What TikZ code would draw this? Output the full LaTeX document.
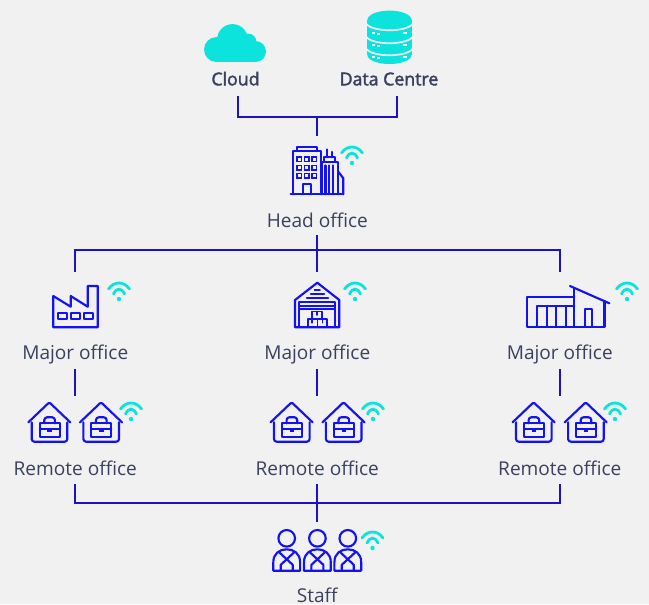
\documentclass[tikz,border=0pt]{standalone}
\usepackage{fontspec}
\setmainfont{Open Sans}
\newfontfamily\semibfont[FakeBold=2.2]{Open Sans}
\definecolor{bgc}{HTML}{F1F1F1}
\definecolor{wire}{HTML}{1C12C4}
\definecolor{iconblue}{HTML}{1212F2}
\definecolor{wific}{HTML}{0CE3DC}
\definecolor{txt}{HTML}{3A4160}
\tikzset{
  x=0.75pt,y=-0.75pt,
  wire/.style={draw=wire,line width=1.5pt},
  ic/.style={draw=iconblue,line width=1.6pt,line join=round,line cap=round},
  icthin/.style={draw=iconblue,line width=1.25pt,line join=round,line cap=round},
  lab/.style={inner sep=0pt,text=txt,font=\fontsize{14.3pt}{16pt}\selectfont,text height=14pt,text depth=3pt,minimum height=#1},
  blab/.style={lab=#1,font=\fontsize{13.3pt}{16pt}\semibfont},
  anchorbox/.style={inner sep=0pt,minimum width=10pt,minimum height=#1},
  pics/wifi/.style={code={
    \fill[wific] (0,0) circle (2.2);
    \draw[wific,line width=2.1pt,line cap=round] (-10.5,-10) .. controls (-5,-18) and (5,-18) .. (10.5,-10);
    \draw[wific,line width=2.1pt,line cap=round] (-5.5,-5) .. controls (-2.5,-11.5) and (2.5,-11.5) .. (5.5,-5);
  }},
  pics/house/.style={code={
    \draw[ic,rounded corners=1pt] (-21,20) -- (0,0) -- (21,20);
    \draw[ic,rounded corners=2pt] (-17.6,20) -- (-17.6,39.4) -- (18,39.4) -- (18,20);
    \draw[ic] (-9.6,21) rectangle (10.4,35);
    \draw[ic] (-9.6,27) -- (10.4,27);
    \draw[ic,rounded corners=2pt] (-5,21) -- (-5,15) -- (5.6,15) -- (5.6,21);
    \fill[iconblue] (-2,25.5) rectangle (2.5,29.5);
  }},
  pics/person/.style={code={
    \draw[ic] (0,0) circle (8.3);
    \draw[ic] (-13.4,32.4) -- (13.4,32.4) -- (13.4,24) .. controls (13.4,15) and (7,11) .. (0,11) .. controls (-7,11) and (-13.4,15) .. (-13.4,24) -- cycle;
    \draw[ic] (-7.5,14) -- (6,26.5) -- (6,32.4);
    \draw[ic] (7.5,14) -- (-6,26.5) -- (-6,32.4);
  }},
}
\begin{document}
\begin{tikzpicture}
\useasboundingbox[fill=bgc] (0,0) rectangle (649,604);

% Cloud
\fill[wific] (216.5,49.5) circle (12.5) (232.5,39.5) circle (15.4) (248,42) circle (8.5) (255.5,51.5) circle (10.5);
\fill[wific] (216.5,45) rectangle (255.5,62);

% Data centre
\fill[wific] (367.4,20) rectangle (411.6,55);
\fill[wific] (389.5,20) ellipse (22.1 and 9.4);
\fill[wific] (389.5,55) ellipse (22.1 and 9);
\foreach \yy in {23.5,36.5,48.5}{
  \draw[bgc,line width=1.3pt] (366,\yy) .. controls (372,{\yy+9}) and (407,{\yy+9}) .. (413,\yy);
}
\foreach \yy in {33,45,57}{
  \fill[bgc] (371.8,{\yy-.8}) rectangle (375,{\yy+.8});
  \fill[bgc] (376.8,{\yy+.4}) rectangle (380,{\yy+2});
  \fill[bgc] (403.4,{\yy-.8}) rectangle (406.6,{\yy+.8});
}

% Head office building
\draw[ic] (292.7,194.3) -- (292.7,151) -- (320.7,151) -- (320.7,194.3);
\draw[ic] (296.7,151) -- (296.7,146.7) -- (316.7,146.7) -- (316.7,151);
\foreach \xx in {299.3,306.7,314.3}\foreach \yy in {159.3,167.7,175.7}{
  \draw[iconblue,line width=1.3pt] ({\xx-2.3},{\yy-2.3}) rectangle ({\xx+2.3},{\yy+2.3});
}
\draw[ic] (302.7,194.3) -- (302.7,184) -- (311.3,184) -- (311.3,194.3);
\draw[ic] (290.7,194.3) -- (343.3,194.3);
\draw[ic] (321.7,194.3) -- (321.7,161.7) -- (338.3,161.7) -- (338.3,194.3);
\draw[ic] (323.8,161.7) -- (323.8,157.3) -- (335,157.3) -- (335,161.7);
\draw[ic] (327.3,157.3) -- (327.3,149.5);
\draw[ic] (331.7,157.3) -- (331.7,152);
\draw[ic] (325.5,165.5) -- (325.5,194.3);
\draw[ic] (329.2,165.5) -- (329.2,194.3);
\draw[ic] (333.4,165.5) -- (333.4,194.3);
\draw[ic] (338.3,171.7) -- (343.3,178.3) -- (343.3,194.3);

% Factory
\draw[ic] (53.3,296) -- (53.3,327.3) -- (97.7,327.3) -- (97.7,286) -- (87.7,286) -- (87.7,306.7) -- (70.7,296) -- (70.7,306.7) -- cycle;
\draw[ic] (57.7,312.7) rectangle (66.7,319);
\draw[ic] (70.7,312.7) rectangle (80,319);
\draw[ic] (84,312.7) rectangle (93.3,319);

% Warehouse
\draw[ic] (295,327.3) -- (295,300) -- (317.3,282.7) -- (339.3,300) -- (339.3,327.3) -- cycle;
\draw[icthin] (299.3,327.3) -- (299.3,302.3) -- (335,302.3) -- (335,327.3);
\draw[icthin] (299.3,305.8) -- (335,305.8);
\draw[icthin] (299.3,309.2) -- (335,309.2);
\draw[icthin] (314.6,290) -- (320,290);
\draw[icthin] (310.7,294) -- (324.3,294);
\draw[icthin] (306.7,298) -- (328.3,298);
\draw[icthin] (312.3,319) -- (312.3,311.5) -- (322.3,311.5) -- (322.3,319);
\draw[icthin] (307.7,327.3) -- (307.7,319.3) -- (327,319.3) -- (327,327.3);
\draw[icthin] (317.4,319.3) -- (317.4,327.3);
\draw[icthin] (317.3,311.5) -- (317.3,315);
\draw[icthin] (312.2,319.3) -- (312.2,322.8);
\draw[icthin] (322.4,319.3) -- (322.4,322.8);

% Shop
\draw[ic] (574.3,296.7) -- (526.7,296.7) -- (526.7,326.7) -- (604.5,326.7) -- (604.5,301);
\draw[ic] (570,286) -- (609.3,303.3);
\draw[ic] (574.3,288.5) -- (574.3,326.7);
\draw[ic] (536.7,326.7) -- (536.7,306) -- (574.3,306);
\draw[ic] (546.7,306) -- (546.7,326.7);
\draw[ic] (556,306) -- (556,326.7);
\draw[ic] (565.7,306) -- (565.7,326.7);
\draw[ic] (585,326.7) -- (585,309) -- (592.3,309) -- (592.3,326.7);

% Houses
\foreach \xx in {49.3,101,291.6,343.5,533.6,585.7}{ \pic at (\xx,402.3) {house}; }
% People
\foreach \xx in {286.7,317.4,347.8}{ \pic at (\xx,538.3) {person}; }
% Wifi
\pic at (352,163) {wifi};
\pic at (119,299) {wifi};
\pic at (355,299) {wifi};
\pic at (627,299) {wifi};
\pic at (131,419) {wifi};
\pic at (373,419) {wifi};
\pic at (615,419) {wifi};
\pic at (372.5,548) {wifi};

% Labels
\node[blab=27pt] (cloudlab) at (235.5,78) {Cloud};
\node[blab=27pt] (dclab) at (389,78) {Data Centre};
\node[lab=22.5pt] (headlab) at (317.3,220) {Head office};
\node[lab=25.5pt] (maj1) at (75.3,352) {Major office};
\node[lab=25.5pt] (maj2) at (317.3,352) {Major office};
\node[lab=25.5pt] (maj3) at (559.8,352) {Major office};
\node[lab=24pt] (rem1) at (75.3,468) {Remote office};
\node[lab=24pt] (rem2) at (317.3,468) {Remote office};
\node[lab=24pt] (rem3) at (559.8,468) {Remote office};
\node[lab=0pt,text height=11pt,text depth=0pt] (stafflab) at (317.3,595.6) {Staff};

% Anchors for connectors
\node[anchorbox=51pt] (headicon) at (317.3,170) {};
\node[anchorbox=42pt] (ic1) at (75.3,300) {};
\node[anchorbox=42pt] (ic2) at (317.3,300) {};
\node[anchorbox=42pt] (ic3) at (559.8,300) {};
\node[anchorbox=36pt] (h1) at (75.3,420) {};
\node[anchorbox=36pt] (h2) at (317.3,420) {};
\node[anchorbox=36pt] (h3) at (559.8,420) {};
\node[anchorbox=42pt] (staffic) at (317.3,550) {};
\coordinate (jtop) at (317.3,117);
\coordinate (jmid) at (317.3,250);
\coordinate (jbot) at (317.3,503);

% Connectors
\draw[wire] ([xshift=1.5pt]cloudlab.south) |- (jtop);
\draw[wire] ([xshift=6.2pt]dclab.south) |- (jtop);
\draw[wire] (jtop) -- (headicon.north);
\draw[wire] (headlab.south) -- (jmid);
\draw[wire] (ic1.north) |- (jmid);
\draw[wire] (ic3.north) |- (jmid);
\draw[wire] (jmid) -- (ic2.north);
\draw[wire] (maj1.south) -- (h1.north);
\draw[wire] (maj2.south) -- (h2.north);
\draw[wire] (maj3.south) -- (h3.north);
\draw[wire] (rem1.south) |- (jbot);
\draw[wire] (rem3.south) |- (jbot);
\draw[wire] (rem2.south) -- (staffic.north);
\end{tikzpicture}
\end{document}
